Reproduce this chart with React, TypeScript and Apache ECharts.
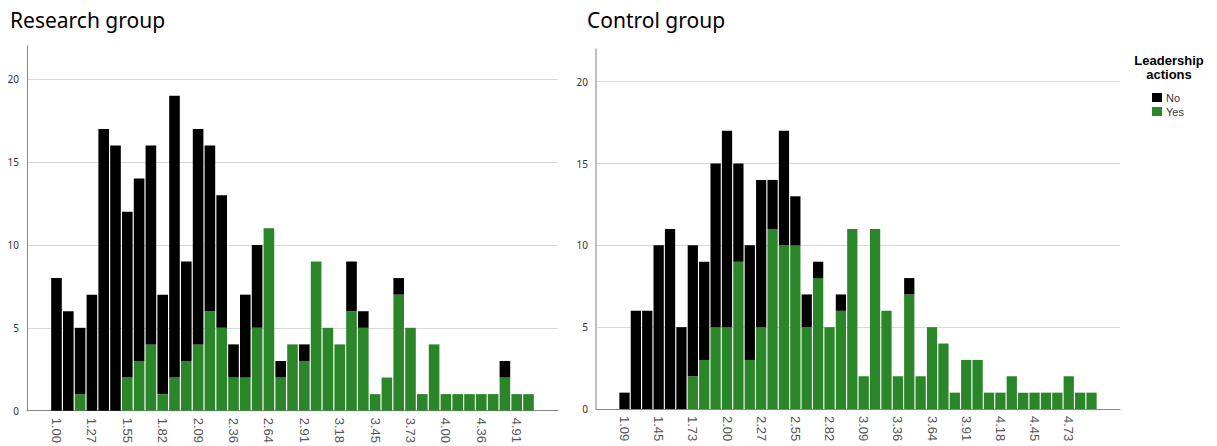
import React, { useEffect, useRef } from "react";
import * as echarts from "echarts";

// Research group (left)
const leftCategories = [
  "1.00", "1.09", "1.18", "1.27", "1.36", "1.45", "1.55", "1.64", "1.73", "1.82",
  "1.91", "2.00", "2.09", "2.18", "2.27", "2.36", "2.45", "2.55", "2.64", "2.73",
  "2.82", "2.91", "3.00", "3.09", "3.18", "3.27", "3.36", "3.45", "3.55", "3.64",
  "3.73", "3.82", "3.91", "4.00", "4.09", "4.18", "4.36", "4.45", "4.64", "4.91",
  "5.00",
];
const leftNo = [
  8, 6, 4, 7, 17, 16, 10, 11, 12, 6, 17, 6, 13, 10, 8, 2, 5, 5, 0, 1, 0, 1, 0, 0,
  0, 3, 1, 0, 0, 1, 0, 0, 0, 0, 0, 0, 0, 0, 1, 0, 0,
];
const leftYes = [
  0, 0, 1, 0, 0, 0, 2, 3, 4, 1, 2, 3, 4, 6, 5, 2, 2, 5, 11, 2, 4, 3, 9, 5, 4, 6,
  5, 1, 2, 7, 5, 1, 4, 1, 1, 1, 1, 1, 2, 1, 1,
];

// Control group (right)
const rightCategories = [
  "1.09", "1.27", "1.36", "1.45", "1.55", "1.64", "1.73", "1.82", "1.91", "2.00",
  "2.09", "2.18", "2.27", "2.36", "2.45", "2.55", "2.64", "2.73", "2.82", "2.91",
  "3.00", "3.09", "3.18", "3.27", "3.36", "3.45", "3.55", "3.64", "3.73", "3.82",
  "3.91", "4.00", "4.09", "4.18", "4.27", "4.36", "4.45", "4.55", "4.64", "4.73",
  "4.82", "4.91",
];
const rightNo = [
  1, 6, 6, 10, 11, 5, 8, 6, 10, 12, 6, 7, 9, 3, 7, 3, 2, 1, 0, 1, 0, 0, 0, 0, 0,
  1, 0, 0, 0, 0, 0, 0, 0, 0, 0, 0, 0, 0, 0, 0, 0, 0,
];
const rightYes = [
  0, 0, 0, 0, 0, 0, 2, 3, 5, 5, 9, 3, 5, 11, 10, 10, 5, 8, 5, 6, 11, 2, 11, 6, 2,
  7, 2, 5, 4, 1, 3, 3, 1, 1, 2, 1, 1, 1, 1, 2, 1, 1,
];

const yTicks = [0, 5, 10, 15, 20];
const seriesNames = ["No", "Yes"];
const titles = ["Research group", "Control group"];
const legendTitle = "Leadership\nactions";

const PAD_BEFORE = 2;
const PAD_AFTER = 2;
const LABEL_STEP = 3;

const COLOR_NO = "#000000";
const COLOR_YES = "#2a8629";

function pad<T>(arr: T[], fill: T): T[] {
  return [
    ...Array(PAD_BEFORE).fill(fill),
    ...arr,
    ...Array(PAD_AFTER).fill(fill),
  ];
}

export default function App() {
  const ref = useRef<HTMLDivElement>(null);

  useEffect(() => {
    if (!ref.current) return;
    const chart = echarts.init(ref.current, null, { renderer: "svg" });

    const makeX = (gridIndex: number, cats: string[], axisColor: string) => ({
      type: "category",
      gridIndex,
      data: pad(cats, ""),
      boundaryGap: true,
      axisTick: { show: false },
      axisLine: { show: true, lineStyle: { color: axisColor, width: 1 } },
      axisLabel: {
        rotate: -90,
        margin: 7,
        fontSize: 13,
        color: "#555",
        fontFamily: "Liberation Sans",
        interval: (i: number) =>
          i >= PAD_BEFORE &&
          i < PAD_BEFORE + cats.length &&
          (i - PAD_BEFORE) % LABEL_STEP === 0,
      },
    });

    const makeY = (gridIndex: number, axisColor: string, w: number) => ({
      type: "value",
      gridIndex,
      min: 0,
      max: 22,
      interval: 5,
      axisTick: { show: false },
      axisLine: { show: true, lineStyle: { color: axisColor, width: w } },
      axisLabel: {
        fontSize: 10,
        color: "#333",
        fontFamily: "Noto Sans",
        margin: 8,
        showMaxLabel: false,
        formatter: (v: number) => (yTicks.includes(v) ? String(v) : ""),
      },
      splitLine: {
        show: true,
        showMaxLine: false,
        lineStyle: { color: "#d9d9d9", width: 1 },
      },
    });

    const makeSeries = (idx: number, no: number[], yes: number[]) => [
      {
        name: seriesNames[1],
        type: "bar",
        xAxisIndex: idx,
        yAxisIndex: idx,
        stack: "s" + idx,
        barCategoryGap: "10%",
        data: pad<any>(yes, "-"),
        itemStyle: { color: COLOR_YES },
      },
      {
        name: seriesNames[0],
        type: "bar",
        xAxisIndex: idx,
        yAxisIndex: idx,
        stack: "s" + idx,
        barCategoryGap: "10%",
        data: pad<any>(no, "-"),
        itemStyle: { color: COLOR_NO },
      },
    ];

    chart.setOption({
      animation: false,
      backgroundColor: "#ffffff",
      grid: [
        { left: 27, top: 46, width: 531, height: 365 },
        { left: 596, top: 49, width: 524, height: 360 },
      ],
      xAxis: [
        makeX(0, leftCategories, "#888"),
        makeX(1, rightCategories, "#888"),
      ],
      yAxis: [makeY(0, "#888", 1), makeY(1, "#aaa", 1.5)],
      series: [
        ...makeSeries(0, leftNo, leftYes),
        ...makeSeries(1, rightNo, rightYes),
      ],
      legend: {
        data: seriesNames,
        orient: "vertical",
        left: 1152,
        top: 92,
        padding: 0,
        itemWidth: 10,
        itemHeight: 9,
        itemGap: 3,
        icon: "rect",
        textStyle: {
          fontSize: 11,
          color: "#333",
          fontFamily: "Liberation Sans",
          padding: [0, 0, 0, -1],
        },
      },
      graphic: [
        {
          type: "text",
          left: 10,
          top: 9,
          style: {
            text: titles[0],
            fontSize: 21,
            fontFamily: "Noto Sans",
            fill: "#000",
          },
        },
        {
          type: "text",
          left: 587,
          top: 9,
          style: {
            text: titles[1],
            fontSize: 21,
            fontFamily: "Noto Sans",
            fill: "#000",
          },
        },
        {
          type: "text",
          x: 1169,
          y: 53,
          style: {
            text: legendTitle,
            fontSize: 13,
            fontWeight: "bold",
            lineHeight: 14,
            fontFamily: "Liberation Sans",
            fill: "#000",
            textAlign: "center",
          },
        },
      ],
    });

    return () => chart.dispose();
  }, []);

  return (
    <div
      ref={ref}
      style={{ position: "absolute", left: 0, top: 0, width: 1217, height: 446 }}
    />
  );
}
